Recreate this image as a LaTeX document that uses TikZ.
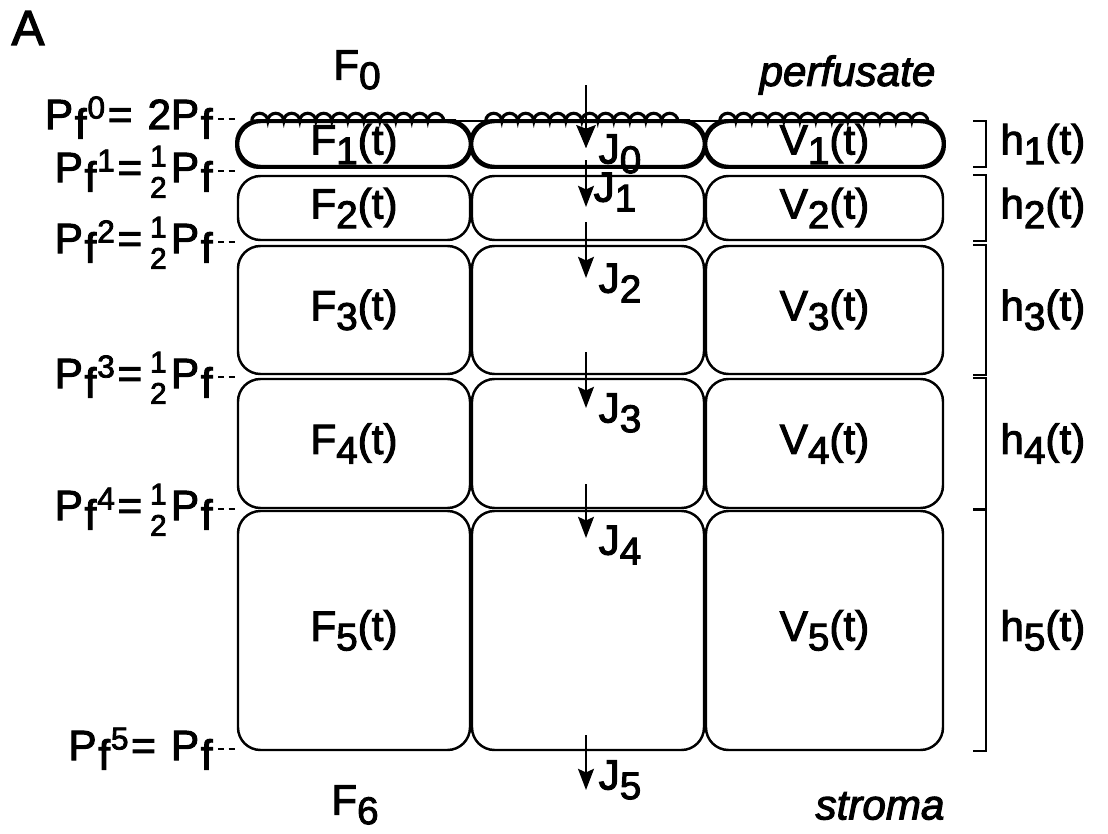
\documentclass[tikz,border=0pt]{standalone}
\usepackage{fontspec}
\setmainfont{Liberation Sans}[FakeBold=2.5]
\usetikzlibrary{arrows.meta, positioning, decorations.pathmorphing}

\newcommand{\dn}[1]{\raisebox{-5.5pt}{\fontsize{22}{22}\selectfont #1}}
\newcommand{\up}[1]{\kern0.5pt\raisebox{6pt}{\fontsize{18}{18}\selectfont #1}}
\newcommand{\half}{\kern2.5pt\raisebox{-9pt}{\fontsize{17}{17}\selectfont\shortstack{1\\[3pt]2}}\kern2.5pt}
\newcommand{\Pf}{P\kern1pt\raisebox{-5.5pt}{f}}
\newcommand{\eq}{\kern1.5pt=\kern2pt}

\begin{document}
\begin{tikzpicture}[font=\fontsize{24}{28}\selectfont,
    cell/.style={draw, line width=1.4pt, rounded corners=0.45cm, inner sep=0pt},
    flux/.style={line width=1.3pt, -{Stealth[length=12pt, width=9pt, inset=2pt]}},
    guide/.style={line width=1pt, dash pattern=on 3.5pt off 2.5pt},
    brace/.style={line width=1.1pt},
    press/.style={anchor=base east, inner sep=0pt}]
    \useasboundingbox (0,0) rectangle (22.16,-16.68);

    \node at (0.56, -0.56) (panel) {\fontsize{28}{30}\selectfont A};
    \node at (7.14, -1.4) (f0) {F\dn{0}};
    \node at (16.95, -1.5) (perf) {\itshape perfusate};
    \node at (7.1, -16.1) (f6) {F\dn{6}};
    \node at (17.6, -16.12) (strom) {\itshape stroma};

    % compartments: F (left), middle, V (right)
    \foreach \r/\yc/\hh in {1/2.88/0.88, 2/4.16/1.28, 3/6.2/2.56, 4/8.87/2.58, 5/12.61/4.78} {
        \node[cell, minimum width=4.64cm, minimum height=\hh cm] (F\r) at (7.08, -\yc) {F\dn{\r}(t)};
        \node[cell, minimum width=4.64cm, minimum height=\hh cm] (M\r) at (11.76, -\yc) {};
        \node[cell, minimum width=4.74cm, minimum height=\hh cm] (V\r) at (16.49, -\yc) {V\dn{\r}(t)};
    }

    % microvilli on top of the first layer
    \foreach \c in {F1, M1, V1} {
        \draw[line width=2pt, rounded corners=0.44cm] (\c.south west) rectangle (\c.north east);
        \draw[line width=1.8pt, decorate, decoration={bumps, segment length=0.64cm, amplitude=0.15cm}]
            ([xshift=0.3cm]\c.north west) -- ([xshift=-0.3cm]\c.north east);
    }
    \draw[line width=1.2pt] ([xshift=0.45cm]F1.north west) -- ([xshift=-0.45cm]V1.north east);

    % pressures at the interfaces
    \coordinate (d0) at (4.36, -2.38);
    \coordinate (d1) at (4.36, -3.42);
    \coordinate (d2) at (4.36, -4.84);
    \coordinate (d3) at (4.36, -7.54);
    \coordinate (d4) at (4.36, -10.18);
    \coordinate (d5) at (4.36, -14.98);
    \node[press] (pf0) at ([xshift=-0.1cm, yshift=-0.2cm]d0) {\Pf\up{0}\eq\ 2\Pf};
    \node[press] (pf1) at ([xshift=-0.1cm, yshift=-0.22cm]d1) {\Pf\up{1}\eq\half\Pf};
    \node[press] (pf2) at ([xshift=-0.1cm, yshift=-0.22cm]d2) {\Pf\up{2}\eq\half\Pf};
    \node[press] (pf3) at ([xshift=-0.1cm, yshift=-0.22cm]d3) {\Pf\up{3}\eq\half\Pf};
    \node[press] (pf4) at ([xshift=-0.1cm, yshift=-0.22cm]d4) {\Pf\up{4}\eq\half\Pf};
    \node[press] (pf5) at ([xshift=-0.1cm, yshift=-0.22cm]d5) {\Pf\up{5}\eq\ \Pf};
    \foreach \i in {0,...,5}
        \draw[guide] (d\i) -- (d\i -| F1.west);

    % fluxes
    \foreach \j/\ya/\yb in {0/1.7/2.96, 1/3.2/4.14, 2/4.44/5.56, 3/7.04/8.16, 4/9.68/10.76, 5/14.7/15.8} {
        \coordinate (js\j) at (11.72, -\ya);
        \coordinate (je\j) at (11.72, -\yb);
        \draw[flux] (js\j) -- (je\j);
    }
    \draw[line width=1.6pt, -{Stealth[length=13pt, width=11pt, inset=2pt]}] (js0) -- (je0);
    \node at (12.4, -3.08) (J0) {J\dn{0}};
    \node at (12.3, -3.84) (J1) {J\dn{1}};
    \node at (12.4, -5.66) (J2) {J\dn{2}};
    \node at (12.4, -8.26) (J3) {J\dn{3}};
    \node at (12.4, -10.9) (J4) {J\dn{4}};
    \node at (12.4, -15.6) (J5) {J\dn{5}};

    % layer thicknesses
    \foreach \r in {1,...,5} {
        \draw[brace] ([xshift=0.58cm]V\r.north east) -- ++(0.26,0) |- ([xshift=0.58cm]V\r.south east);
        \node[right=1.0cm of V\r] (h\r) {h\dn{\r}(t)};
    }
\end{tikzpicture}
\end{document}
